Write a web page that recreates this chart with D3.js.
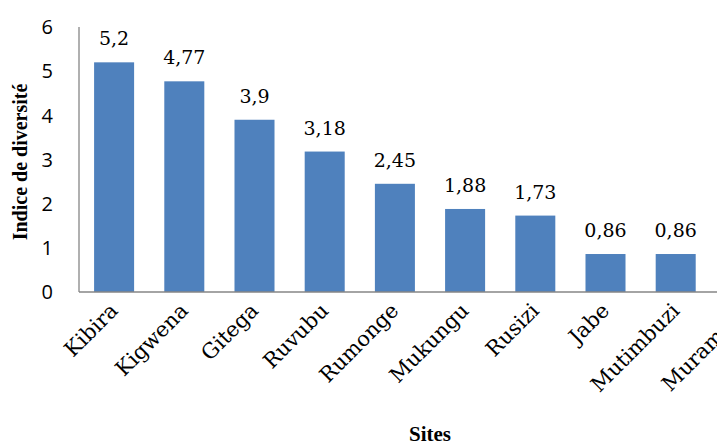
<!DOCTYPE html>
<html><head><meta charset="utf-8">
<script src="https://cdn.jsdelivr.net/npm/d3@7"></script>
<style>body{margin:0;background:#fff}svg{display:block}
.serifb{font-family:"Liberation Serif","Times New Roman",serif}
.serif2{font-family:"DejaVu Serif",serif}
</style>
</head><body>
<svg id="c" width="717" height="446"></svg>
<script>
const categories = ["Kibira","Kigwena","Gitega","Ruvubu","Rumonge","Mukungu","Rusizi","Jabe","Mutimbuzi","Muramvya"];
const values = [5.2,4.77,3.9,3.18,2.45,1.88,1.73,0.86,0.86,0.5];
const valueLabels = ["5,2","4,77","3,9","3,18","2,45","1,88","1,73","0,86","0,86","0,5"];
const yTicks = [0,1,2,3,4,5,6];

const svg = d3.select("#c");
const x = d3.scaleBand().domain(categories).range([79, 781]).paddingInner(0.43).paddingOuter(0.215);
const y = d3.scaleLinear().domain([0,6]).range([292, 27]);

svg.selectAll("rect.bar").data(values).join("rect")
  .attr("class","bar")
  .attr("x",(d,i)=>x(categories[i]))
  .attr("width",x.bandwidth())
  .attr("y",d=>y(d))
  .attr("height",d=>y(0)-y(d))
  .attr("fill","#4f81bd");

svg.append("line").attr("x1",79).attr("x2",79).attr("y1",y(6)).attr("y2",y(0)).attr("stroke","#868686").attr("stroke-width",1.3);
svg.append("line").attr("x1",79).attr("x2",717).attr("y1",y(0)).attr("y2",y(0)).attr("stroke","#868686").attr("stroke-width",1.3);

svg.selectAll("text.yt").data(yTicks).join("text")
  .attr("class","yt")
  .attr("x",53).attr("y",d=>y(d)).attr("dy","0.36em")
  .attr("text-anchor","end")
  .style("font-family","'Open Sans', 'Liberation Sans', sans-serif")
  .attr("font-size",20).attr("fill","#000")
  .text(d=>d);

svg.selectAll("text.vl").data(values).join("text")
  .attr("class","vl serif2")
  .attr("x",(d,i)=>x(categories[i])+x.bandwidth()/2)
  .attr("y",d=>y(d)-17)
  .attr("text-anchor","middle")
  .attr("font-size",19).attr("fill","#000")
  .text((d,i)=>valueLabels[i]);

svg.selectAll("text.cl").data(categories).join("text")
  .attr("class","cl serif2")
  .attr("transform",d=>`translate(${x(d)+x.bandwidth()/2+5},${y(0)+20}) rotate(-45)`)
  .attr("text-anchor","end")
  .attr("font-size",21).attr("fill","#000")
  .text(d=>d);

svg.append("text")
  .attr("class","serifb")
  .attr("transform","translate(27,162) rotate(-90)")
  .attr("text-anchor","middle")
  .attr("font-weight","bold").attr("font-size",20)
  .text("Indice de diversité");

svg.append("text")
  .attr("class","serifb")
  .attr("x",430).attr("y",441)
  .attr("text-anchor","middle")
  .attr("font-weight","bold").attr("font-size",21)
  .text("Sites");
</script>
</body></html>
